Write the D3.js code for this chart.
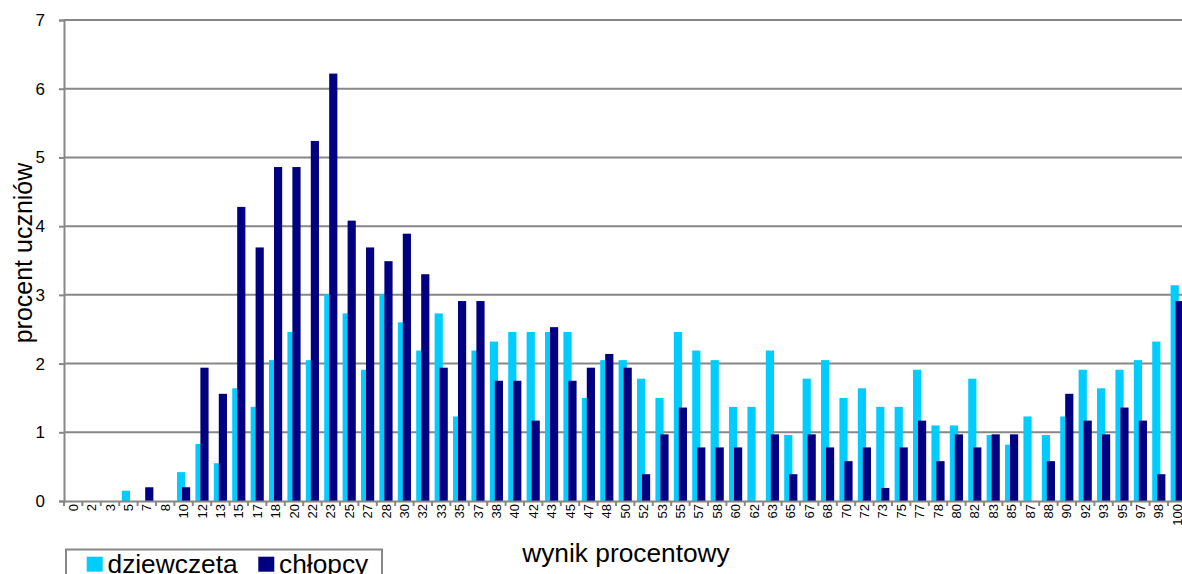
<!DOCTYPE html>
<html><head><meta charset="utf-8">
<script src="https://cdn.jsdelivr.net/npm/d3@7"></script>
<style>body{margin:0;background:#fff;}svg{display:block;font-family:"Liberation Sans",Arial,sans-serif;}</style>
</head><body>
<svg id="c" width="1182" height="574"></svg>
<script>
const categories = ["0","2","3","5","7","8","10","12","13","15","17","18","20","22","23","25","27","28","30","32","33","35","37","38","40","42","43","45","47","48","50","52","53","55","57","58","60","62","63","65","67","68","70","72","73","75","77","78","80","82","83","85","87","88","90","92","93","95","97","98","100"];
const dziewczeta = [0,0,0,0.15,0,0,0.42,0.83,0.55,1.64,1.37,2.05,2.46,2.05,3.01,2.73,1.91,3.01,2.6,2.19,2.73,1.23,2.19,2.32,2.46,2.46,2.46,2.46,1.5,2.05,2.05,1.78,1.5,2.46,2.19,2.05,1.37,1.37,2.19,0.96,1.78,2.05,1.5,1.64,1.37,1.37,1.91,1.1,1.1,1.78,0.96,0.82,1.23,0.96,1.23,1.91,1.64,1.91,2.05,2.32,3.14];
const chlopcy = [0,0,0,0,0.2,0,0.2,1.94,1.56,4.28,3.69,4.86,4.86,5.24,6.22,4.08,3.69,3.49,3.89,3.3,1.94,2.91,2.91,1.75,1.75,1.17,2.53,1.75,1.94,2.14,1.94,0.39,0.97,1.36,0.78,0.78,0.78,0,0.97,0.39,0.97,0.78,0.58,0.78,0.19,0.78,1.17,0.58,0.97,0.78,0.97,0.97,0,0.58,1.56,1.17,0.97,1.36,1.17,0.39,2.91];
const yTicks = [0,1,2,3,4,5,6,7];
const seriesNames = ["dziewczeta","chłopcy"];
const colors = ["#00CCFF","#000080"];

const svg = d3.select("#c");
const pL = 64, pR = 1186.4, pT = 20, pB = 501;
const x = d3.scaleBand().domain(categories).range([pL, pR]).paddingInner(0).paddingOuter(0);
const y = d3.scaleLinear().domain([0,7]).range([pB, pT]);
const bw = x.bandwidth();
const barW = bw * 0.445;
const step = bw * 0.27;
const series = [dziewczeta, chlopcy];

// gridlines
svg.append("g").selectAll("line").data(yTicks.filter(d=>d>0)).join("line")
  .attr("x1", pL).attr("x2", 1182).attr("y1", d=>y(d)).attr("y2", d=>y(d))
  .attr("stroke", "#878787").attr("stroke-width", 2);

// bars
series.forEach((vals, si) => {
  svg.append("g").selectAll("rect").data(vals).join("rect")
    .attr("x", (d,i) => x(categories[i]) + bw/2 - (barW + step)/2 + si*step)
    .attr("width", barW)
    .attr("y", d => y(d))
    .attr("height", d => y(0) - y(d))
    .attr("fill", colors[si]);
});

// y axis
const yAxis = d3.axisLeft(y).tickValues(yTicks).tickSize(5).tickPadding(14).tickFormat(d3.format("d"));
const ya = svg.append("g").attr("transform", `translate(${pL},0)`).call(yAxis);
ya.select(".domain").attr("stroke", "#878787").attr("stroke-width", 2);
ya.selectAll(".tick line").attr("stroke", "#878787").attr("stroke-width", 2);
ya.selectAll("text").attr("font-size", 17).attr("fill", "#000").attr("font-family", "Liberation Sans, Arial, sans-serif");

// x axis
const xAxis = d3.axisBottom(x).tickSize(0).tickPadding(0);
const xa = svg.append("g").attr("transform", `translate(0,${pB})`).call(xAxis);
xa.select(".domain").attr("stroke", "#878787").attr("stroke-width", 2);
xa.selectAll(".tick text")
  .attr("transform", "rotate(-90)")
  .attr("x", -3).attr("y", 0).attr("dy", "0.35em")
  .attr("text-anchor", "end")
  .attr("font-size", 13).attr("fill", "#000").attr("font-family", "Liberation Sans, Arial, sans-serif");
// category boundary ticks
svg.append("g").selectAll("line").data(categories).join("line")
  .attr("x1", d => x(d)).attr("x2", d => x(d))
  .attr("y1", pB).attr("y2", pB + 5)
  .attr("stroke", "#878787").attr("stroke-width", 2);

// axis titles
svg.append("text").attr("transform", `translate(31.5,253) rotate(-90)`)
  .attr("text-anchor", "middle").attr("font-size", 25).text("procent uczniów");
svg.append("text").attr("x", 626).attr("y", 562)
  .attr("text-anchor", "middle").attr("font-size", 26.3).text("wynik procentowy");

// legend
const lg = svg.append("g");
lg.append("rect").attr("x", 66).attr("y", 549.5).attr("width", 316).attr("height", 40)
  .attr("fill", "#fff").attr("stroke", "#878787").attr("stroke-width", 2);
const legX = [86.7, 258.3];
seriesNames.forEach((n, i) => {
  lg.append("rect").attr("x", legX[i]).attr("y", 556.7).attr("width", 16).attr("height", 15).attr("fill", colors[i]);
  lg.append("text").attr("x", legX[i] + 20.8).attr("y", 573).attr("font-size", 26.3).text(n);
});
</script>
</body></html>
